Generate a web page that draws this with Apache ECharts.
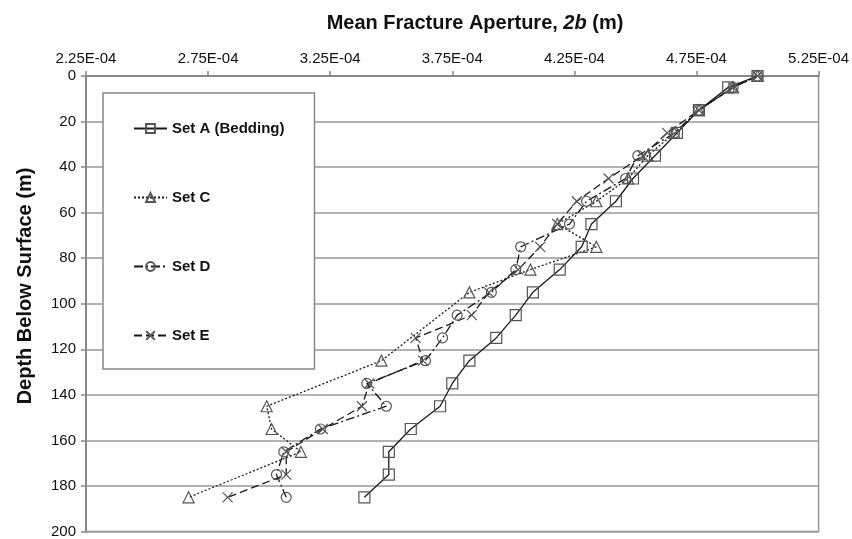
<!DOCTYPE html>
<html><head><meta charset="utf-8">
<script src="https://cdn.jsdelivr.net/npm/echarts@6/dist/echarts.min.js"></script>
<style>html,body{margin:0;padding:0;background:#fff}#c{width:852px;height:539px}</style>
</head><body><div id="c"></div>
<script>
const xTicks = ['2.25E-04','2.75E-04','3.25E-04','3.75E-04','4.25E-04','4.75E-04','5.25E-04'];
const seriesNames = ['Set A (Bedding)','Set C','Set D','Set E'];
const depthA = [0,5,15,25,35,45,55,65,75,85,95,105,115,125,135,145,155,165,175,185];
const apertureA = [5.00e-4,4.88e-4,4.76e-4,4.67e-4,4.58e-4,4.49e-4,4.42e-4,4.32e-4,4.28e-4,4.19e-4,4.08e-4,4.01e-4,3.93e-4,3.82e-4,3.75e-4,3.70e-4,3.58e-4,3.49e-4,3.49e-4,3.39e-4];
const depthC = [0,5,15,25,35,45,55,65,75,85,95,125,145,155,165,185];
const apertureC = [5.00e-4,4.90e-4,4.76e-4,4.66e-4,4.55e-4,4.47e-4,4.34e-4,4.18e-4,4.34e-4,4.07e-4,3.82e-4,3.46e-4,2.99e-4,3.01e-4,3.13e-4,2.67e-4];
const depthD = [0,5,15,25,35,45,55,65,75,85,95,105,115,125,135,145,155,165,175,185];
const apertureD = [5.00e-4,4.90e-4,4.76e-4,4.66e-4,4.51e-4,4.46e-4,4.30e-4,4.23e-4,4.03e-4,4.01e-4,3.91e-4,3.77e-4,3.71e-4,3.64e-4,3.40e-4,3.48e-4,3.21e-4,3.06e-4,3.03e-4,3.07e-4];
const depthE = [0,5,15,25,35,45,55,65,75,85,95,105,115,125,135,145,155,165,175,185];
const apertureE = [5.00e-4,4.90e-4,4.76e-4,4.63e-4,4.53e-4,4.39e-4,4.26e-4,4.18e-4,4.11e-4,4.02e-4,3.90e-4,3.83e-4,3.60e-4,3.63e-4,3.41e-4,3.38e-4,3.22e-4,3.07e-4,3.07e-4,2.83e-4];

const FONT = "'Liberation Sans', Arial, sans-serif";
const pairs = (xs, ds) => xs.map((v, i) => [v, ds[i]]);
const xMin = 2.25e-4, xMax = 5.25e-4, xStep = 0.5e-4;

function mkSeries(name, xs, ds, symbol, size, dash) {
  return {
    name, type: 'line', data: pairs(xs, ds),
    symbol, symbolSize: size,
    lineStyle: { color: '#1a1a1a', width: 1.3, type: dash },
    itemStyle: { color: 'rgba(0,0,0,0)', borderColor: '#555', borderWidth: 1.2 },
    emphasis: { disabled: true }, animation: false
  };
}

const chart = echarts.init(document.getElementById('c'));
chart.setOption({
  animation: false,
  backgroundColor: '#fff',
  title: {
    text: '{b|Mean Fracture Aperture, }{i|2b}{b| (m)}',
    left: 470, top: 8, textAlign: 'center',
    textStyle: { rich: {
      b: { fontFamily: FONT, fontSize: 20, fontWeight: 'bold', color: '#111' },
      i: { fontFamily: FONT, fontSize: 20, fontWeight: 'bold', fontStyle: 'italic', color: '#111' }
    } }
  },
  grid: { left: 86, right: 23, top: 76, bottom: 7, show: true, borderColor: '#999', borderWidth: 1.5, backgroundColor: 'transparent' },
  xAxis: {
    type: 'value', position: 'top', min: xMin, max: xMax, interval: xStep,
    axisLine: { show: true, lineStyle: { color: '#888', width: 2 } },
    axisTick: { show: true, length: 5, lineStyle: { color: '#888', width: 1.5 } },
    splitLine: { show: false },
    axisLabel: { margin: 10, fontFamily: FONT, fontSize: 15, color: '#111',
      formatter: v => { const i = Math.round((v - xMin) / xStep); return xTicks[i] !== undefined ? xTicks[i] : ''; } }
  },
  yAxis: {
    type: 'value', inverse: true, min: 0, max: 200, interval: 20,
    axisLine: { show: true, lineStyle: { color: '#888', width: 2 } },
    axisTick: { show: true, length: 5, lineStyle: { color: '#888', width: 1.5 } },
    splitLine: { show: true, lineStyle: { color: '#999', width: 1.5 } },
    axisLabel: { margin: 10, fontFamily: FONT, fontSize: 15, color: '#111' }
  },
  legend: {
    orient: 'vertical', left: 103, top: 93,
    padding: [28, 30, 26, 30], itemGap: 54,
    itemWidth: 33, itemHeight: 11,
    borderColor: '#888', borderWidth: 1.5, backgroundColor: '#fff',
    textStyle: { fontFamily: FONT, fontSize: 15, fontWeight: 'bold', color: '#111' },
    data: seriesNames
  },
  graphic: [{
    type: 'text', x: 25, y: 286, rotation: Math.PI / 2,
    style: { text: 'Depth Below Surface (m)', font: "bold 20px 'Liberation Sans', Arial, sans-serif", fill: '#111', align: 'center', verticalAlign: 'middle' }
  }],
  series: [
    mkSeries(seriesNames[0], apertureA, depthA, 'rect', 11, 'solid'),
    mkSeries(seriesNames[1], apertureC, depthC, 'triangle', 11, [2, 2]),
    mkSeries(seriesNames[2], apertureD, depthD, 'circle', 10, [9, 3, 2, 3]),
    mkSeries(seriesNames[3], apertureE, depthE, 'path://M0,0L10,10M0,10L10,0', 10, [8, 4])
  ]
});
</script></body></html>
